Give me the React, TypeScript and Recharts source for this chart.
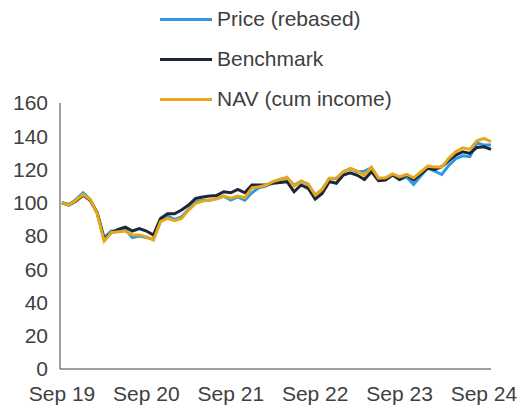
import React from "react";
import { LineChart, Line, XAxis, YAxis } from "recharts";

const monthNames = ["Jan", "Feb", "Mar", "Apr", "May", "Jun", "Jul", "Aug", "Sep", "Oct", "Nov", "Dec"];

const tickLabels = ["Sep 19", "Sep 20", "Sep 21", "Sep 22", "Sep 23", "Sep 24"];
const yTicks = [0, 20, 40, 60, 80, 100, 120, 140, 160];

const price = [
  100, 99, 102, 106, 102, 94, 79, 83, 83, 84, 79, 80, 79, 78, 89, 92, 90, 91.5, 96, 100.5,
  101.5, 101.5, 102.5, 104, 101.6, 103.5, 101.6, 106, 109, 110, 112.5, 114, 115, 110.5, 113, 111,
  104.5, 108, 114.5, 114.5, 118.5, 120.5, 118.5, 119, 121, 114.5, 114.5, 117, 114, 115.5, 111, 116,
  121, 119, 117, 122.5, 126.5, 128.3, 127.7, 136, 134.7, 134.7,
];

const benchmark = [
  100, 98.6, 101, 104.5, 101.5, 94, 78, 82, 84, 85.4, 83, 84.4, 83, 80.6, 90.6, 93.4, 93.4, 95.6, 98.6, 102.6,
  103.4, 104, 104.4, 106.6, 106, 108, 106, 110.7, 110.7, 110.7, 111.7, 112.2, 112.7, 106.6, 110.7, 108.7,
  102.2, 105.6, 112.7, 111.7, 116.7, 118, 116.5, 114, 118.7, 113.3, 113.7, 116.7, 114, 116.7, 113.7, 117.3,
  120.7, 120, 121.7, 125.3, 128.7, 130.7, 129.7, 133.3, 133.7, 132.1,
];

const nav = [
  100, 98.6, 101.5, 105, 102, 93.5, 77, 82, 82.5, 83, 80.6, 80.6, 79.5, 77.6, 88.6, 90.6, 89.2, 90.6, 95.6, 99.6,
  101, 101.6, 102.4, 104, 102.8, 104, 103, 109, 109.6, 110.5, 112.7, 114, 115.3, 110, 113, 111.3,
  104.7, 108, 114.7, 114.7, 118.7, 120.7, 119, 116.5, 121.3, 114.7, 115, 117.3, 115.5, 117, 115, 118.5,
  122, 121.5, 121.5, 126.7, 130.7, 133.1, 132.1, 137.3, 138.7, 136.7,
];

// monthly categories starting Sep 2019
const data = price.map((p, i) => {
  const m = (8 + i) % 12;
  const y = 19 + Math.floor((8 + i) / 12);
  return { month: `${monthNames[m]} ${y}`, price: p, benchmark: benchmark[i], nav: nav[i] };
});

const series = [
  { key: "price", name: "Price (rebased)", color: "#2B9AE4" },
  { key: "benchmark", name: "Benchmark", color: "#1C2636" },
  { key: "nav", name: "NAV (cum income)", color: "#E6A719" },
];

const font = "'Liberation Sans', Arial, sans-serif";
const textColor = "#404040";

const App = () => {
  return (
    <div style={{ position: "absolute", left: 0, top: 0, width: 527, height: 408, background: "#fff", fontFamily: font }}>
      <LineChart width={527} height={408} data={data} margin={{ top: 103, right: 36, left: 0, bottom: 9 }}>
        <XAxis
          dataKey="month"
          ticks={tickLabels}
          interval={0}
          tickLine={false}
          tickSize={6}
          tickMargin={11}
          height={30}
          padding={{ left: 2, right: 0 }}
          stroke="#404040"
          tick={{ fill: textColor, fontSize: 21, fontFamily: font }}
        />
        <YAxis
          domain={[0, 160]}
          ticks={yTicks}
          interval={0}
          width={60}
          tickLine={false}
          tickSize={6}
          tickMargin={6}
          stroke="#404040"
          tick={{ fill: textColor, fontSize: 21, fontFamily: font }}
        />
        {series.map((s) => (
          <Line
            key={s.key}
            type="linear"
            dataKey={s.key}
            name={s.name}
            stroke={s.color}
            strokeWidth={3}
            dot={false}
            isAnimationActive={false}
          />
        ))}
      </LineChart>
      {series.map((s, i) => (
        <div
          key={s.key}
          style={{
            position: "absolute",
            left: 160,
            top: 19 + i * 40 - 14,
            height: 28,
            display: "flex",
            alignItems: "center",
            fontSize: 21,
            color: textColor,
            whiteSpace: "nowrap",
          }}
        >
          <div style={{ width: 52, height: 3, background: s.color, marginRight: 5 }} />
          <span>{s.name}</span>
        </div>
      ))}
    </div>
  );
};

export default App;
